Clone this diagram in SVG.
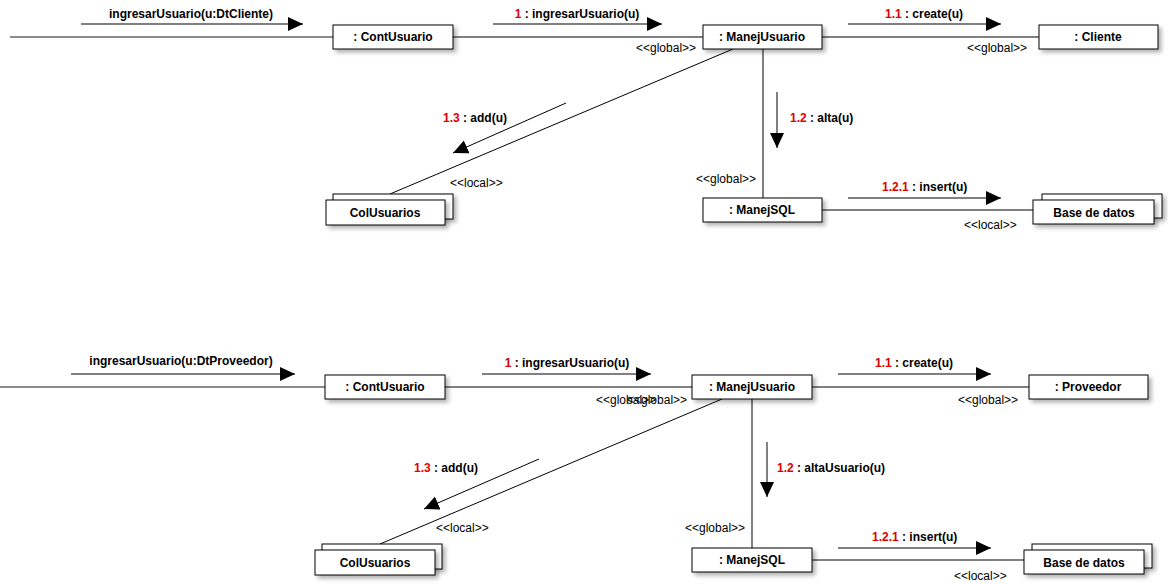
<svg xmlns="http://www.w3.org/2000/svg" width="1168" height="584" viewBox="0 0 1168 584">
<style>
.box{fill:#fff;stroke:#000;stroke-width:1;filter:url(#sh)}
.lbl{font-family:"Liberation Sans",Arial,sans-serif;font-size:12px;font-weight:bold;fill:#000}
.nm{font-family:"Liberation Sans",Arial,sans-serif;font-size:12px;font-weight:bold;fill:#000;text-anchor:middle}
.st{font-family:"Liberation Sans",Arial,sans-serif;font-size:12px;fill:#000}
.red{fill:#e00000}
.ln{stroke:#000;stroke-width:1;fill:none}
.in{stroke:#666;stroke-width:1.5;fill:none}
.msg{stroke:#000;stroke-width:1;fill:none;marker-end:url(#ah)}
</style>
<defs>
<filter id="sh" x="-20%" y="-40%" width="150%" height="200%"><feDropShadow dx="3" dy="3" stdDeviation="2" flood-color="#000" flood-opacity="0.3"/></filter>
<marker id="ah" markerUnits="userSpaceOnUse" markerWidth="16" markerHeight="15" refX="15" refY="7" orient="auto" viewBox="0 0 16 15"><path d="M0,0 L15,7 L0,14 z" fill="#000"/></marker>
</defs>

<g id="connectors">
<!-- top -->
<line class="in" x1="10" y1="37" x2="333" y2="37"/>
<line class="ln" x1="453" y1="37" x2="703" y2="37"/>
<line class="ln" x1="822" y1="37" x2="1039" y2="37"/>
<line class="ln" x1="733" y1="49" x2="390" y2="194"/>
<line class="ln" x1="763" y1="49" x2="763" y2="198"/>
<line class="ln" x1="822" y1="210" x2="1033" y2="210"/>
<!-- bottom -->
<line class="in" x1="0" y1="387" x2="325" y2="387"/>
<line class="ln" x1="445" y1="387" x2="692" y2="387"/>
<line class="ln" x1="812" y1="387" x2="1029" y2="387"/>
<line class="ln" x1="722" y1="399" x2="380" y2="544"/>
<line class="ln" x1="752" y1="399" x2="752" y2="548"/>
<line class="ln" x1="812" y1="560" x2="1024" y2="560"/>

<!-- messages top -->
<line class="msg" x1="81" y1="24" x2="303" y2="24"/>
<line class="msg" x1="493" y1="24" x2="662" y2="24"/>
<line class="msg" x1="848" y1="24" x2="1001" y2="24"/>
<line class="msg" x1="566" y1="103" x2="453" y2="153"/>
<line class="msg" x1="777" y1="92" x2="777" y2="148"/>
<line class="msg" x1="848" y1="198" x2="1001" y2="198"/>
<!-- messages bottom -->
<line class="msg" x1="71" y1="374" x2="295" y2="374"/>
<line class="msg" x1="482" y1="374" x2="651" y2="374"/>
<line class="msg" x1="838" y1="374" x2="991" y2="374"/>
<line class="msg" x1="539" y1="459" x2="424" y2="509"/>
<line class="msg" x1="767" y1="442" x2="767" y2="497"/>
<line class="msg" x1="838" y1="548" x2="991" y2="548"/>

<!-- labels top -->
<text class="nm" x="191" y="18">ingresarUsuario(u:DtCliente)</text>
<text class="nm" x="577" y="18"><tspan class="red">1</tspan> : ingresarUsuario(u)</text>
<text class="nm" x="924" y="18"><tspan class="red">1.1</tspan> : create(u)</text>
<text class="st" x="636" y="52">&lt;&lt;global&gt;&gt;</text>
<text class="st" x="967" y="52">&lt;&lt;global&gt;&gt;</text>
<text class="lbl" x="443" y="122"><tspan class="red">1.3</tspan> : add(u)</text>
<text class="st" x="450" y="187">&lt;&lt;local&gt;&gt;</text>
<text class="lbl" x="790" y="122"><tspan class="red">1.2</tspan> : alta(u)</text>
<text class="st" x="696" y="183">&lt;&lt;global&gt;&gt;</text>
<text class="lbl" x="882" y="191"><tspan class="red">1.2.1</tspan> : insert(u)</text>
<text class="st" x="964" y="229">&lt;&lt;local&gt;&gt;</text>
<!-- labels bottom -->
<text class="nm" x="181" y="365">ingresarUsuario(u:DtProveedor)</text>
<text class="nm" x="567" y="367"><tspan class="red">1</tspan> : ingresarUsuario(u)</text>
<text class="nm" x="914" y="367"><tspan class="red">1.1</tspan> : create(u)</text>
<text class="st" x="596" y="404">&lt;&lt;global&gt;&gt;</text>
<text class="st" x="627" y="404">&lt;&lt;global&gt;&gt;</text>
<text class="st" x="958" y="404">&lt;&lt;global&gt;&gt;</text>
<text class="lbl" x="414" y="472"><tspan class="red">1.3</tspan> : add(u)</text>
<text class="st" x="436" y="532">&lt;&lt;local&gt;&gt;</text>
<text class="lbl" x="777" y="472"><tspan class="red">1.2</tspan> : altaUsuario(u)</text>
<text class="st" x="685" y="532">&lt;&lt;global&gt;&gt;</text>
<text class="lbl" x="872" y="541"><tspan class="red">1.2.1</tspan> : insert(u)</text>
<text class="st" x="954" y="580">&lt;&lt;local&gt;&gt;</text>
</g>

<!-- top nodes -->
<g id="contusuario1"><rect class="box" x="333" y="25" width="120" height="24"/><text class="nm" x="393" y="41">: ContUsuario</text></g>
<g id="manejusuario1"><rect class="box" x="703" y="25" width="119" height="24"/><text class="nm" x="762" y="41">: ManejUsuario</text></g>
<g id="cliente"><rect class="box" x="1039" y="25" width="119" height="24"/><text class="nm" x="1098" y="41">: Cliente</text></g>
<g id="colusuarios1"><rect class="box" x="333" y="194" width="120" height="25"/><rect class="box" x="326" y="200" width="119" height="25"/><text class="nm" x="385" y="217">ColUsuarios</text></g>
<g id="manejsql1"><rect class="box" x="703" y="198" width="119" height="24"/><text class="nm" x="762" y="214">: ManejSQL</text></g>
<g id="basedatos1"><rect class="box" x="1042" y="194" width="120" height="24"/><rect class="box" x="1033" y="200" width="121" height="24"/><text class="nm" x="1094" y="217">Base de datos</text></g>

<!-- bottom nodes -->
<g id="contusuario2"><rect class="box" x="325" y="375" width="120" height="24"/><text class="nm" x="385" y="391">: ContUsuario</text></g>
<g id="manejusuario2"><rect class="box" x="692" y="375" width="120" height="24"/><text class="nm" x="752" y="391">: ManejUsuario</text></g>
<g id="proveedor"><rect class="box" x="1029" y="375" width="119" height="24"/><text class="nm" x="1088" y="391">: Proveedor</text></g>
<g id="colusuarios2"><rect class="box" x="322" y="544" width="120" height="25"/><rect class="box" x="315" y="550" width="120" height="25"/><text class="nm" x="375" y="567">ColUsuarios</text></g>
<g id="manejsql2"><rect class="box" x="692" y="548" width="120" height="24"/><text class="nm" x="752" y="564">: ManejSQL</text></g>
<g id="basedatos2"><rect class="box" x="1032" y="544" width="120" height="24"/><rect class="box" x="1024" y="550" width="120" height="24"/><text class="nm" x="1084" y="567">Base de datos</text></g>
</svg>
